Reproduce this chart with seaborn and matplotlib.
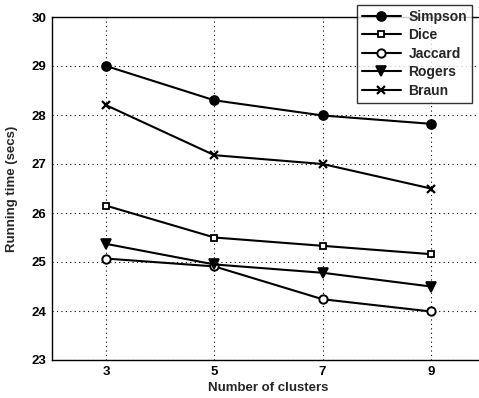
import matplotlib
matplotlib.use("Agg")
import matplotlib.pyplot as plt
import seaborn as sns
import pandas as pd

clusters = [3, 5, 7, 9]
simpson = [29.00, 28.30, 27.99, 27.82]
dice = [26.15, 25.50, 25.33, 25.16]
jaccard = [25.07, 24.91, 24.24, 23.99]
rogers = [25.37, 24.95, 24.78, 24.50]
braun = [28.20, 27.18, 27.00, 26.50]
series_names = ["Simpson", "Dice", "Jaccard", "Rogers", "Braun"]
series_values = [simpson, dice, jaccard, rogers, braun]
y_ticks = [23, 24, 25, 26, 27, 28, 29, 30]

sns.set_style("white")
plt.rcParams['font.family'] = ['Liberation Sans', 'DejaVu Sans']
plt.rcParams['font.weight'] = 'bold'

fig = plt.figure(figsize=(4.79, 3.98), dpi=100)
W, H = 479, 398
left, right, top, bottom = 52, 485, 17, 360
ax = fig.add_axes([left / W, 1 - bottom / H, (right - left) / W, (bottom - top) / H])

styles = {
    "Simpson": dict(marker="o", markersize=6.5, markerfacecolor="black", markeredgewidth=1.2),
    "Dice": dict(marker="s", markersize=4.8, markerfacecolor="white", markeredgewidth=1.3),
    "Jaccard": dict(marker="o", markersize=6.0, markerfacecolor="white", markeredgewidth=1.4),
    "Rogers": dict(marker="v", markersize=6.8, markerfacecolor="black", markeredgewidth=1.2),
    "Braun": dict(marker="x", markersize=6.2, markeredgewidth=1.6),
}

for name, vals in zip(series_names, series_values):
    df = pd.DataFrame({"clusters": clusters, "time": vals})
    sns.lineplot(data=df, x="clusters", y="time", ax=ax, color="black",
                 linewidth=1.5, markeredgecolor="black", label=name, **styles[name])

ax.set_xlim(2, 10)
ax.set_ylim(23, 30)
ax.set_xticks(clusters)
ax.set_yticks(y_ticks)
ax.tick_params(direction="in", length=3, width=0.8, labelsize=9.5, colors="black", pad=4)
for lab in ax.get_xticklabels() + ax.get_yticklabels():
    lab.set_fontweight("bold")
ax.grid(True, linestyle=(0, (1, 3)), color="black", linewidth=0.8)
for s in ax.spines.values():
    s.set_color("black")
    s.set_linewidth(1.0)
    s.set_visible(True)

ax.set_xlabel("Number of clusters", fontsize=9.5, fontweight="bold", labelpad=3)
ax.set_ylabel("Running time (secs)", fontsize=9.5, fontweight="bold", labelpad=10)

leg = ax.legend(loc="upper right", bbox_to_anchor=(472 / W, 1 - 5 / H),
                bbox_transform=fig.transFigure, frameon=True, fancybox=False,
                edgecolor="black", fontsize=10, handlelength=2.8, labelspacing=0.32,
                borderpad=0.35, handletextpad=0.55, borderaxespad=0)
leg.get_frame().set_linewidth(1.0)
leg.set_zorder(10)
for t in leg.get_texts():
    t.set_fontweight("bold")

fig.savefig("out.png", dpi=100)
